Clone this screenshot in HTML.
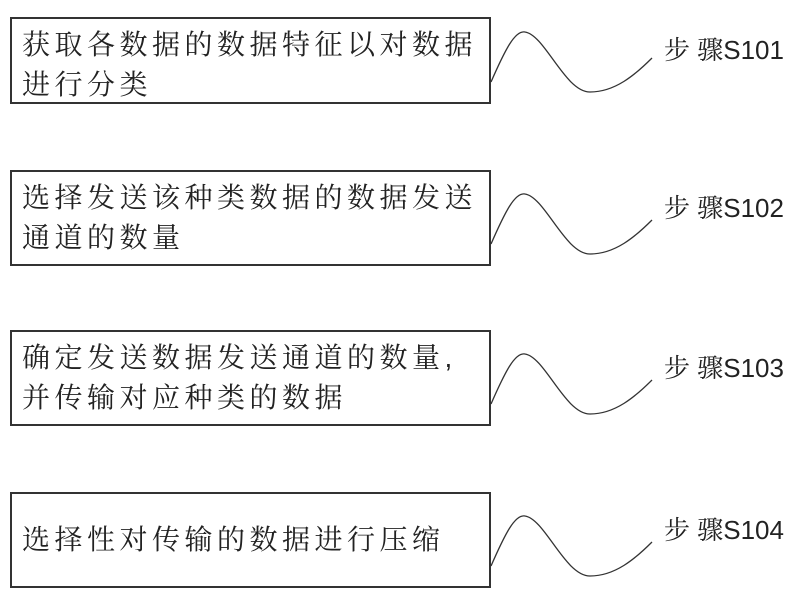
<!DOCTYPE html>
<html><head><meta charset="utf-8"><style>
body{margin:0;background:#fff;width:795px;height:595px;overflow:hidden;position:relative;font-family:"Liberation Sans","Noto Serif CJK SC","Noto Sans CJK SC",serif;}
.b{position:absolute;left:10px;width:481px;border:2px solid #333;box-sizing:border-box;}
.t{position:absolute;left:22px;font-size:28px;color:#222;letter-spacing:4.5px;line-height:40px;white-space:nowrap;}
.l{position:absolute;left:664px;font-size:26px;color:#222;white-space:nowrap;}
</style></head><body>
<div class="b" style="top:17px;height:87px"></div>
<div class="t" style="top:25px">获取各数据的数据特征以对数据<br>进行分类</div>
<div class="l" style="top:30px">步 骤S101</div>
<div class="b" style="top:170px;height:96px"></div>
<div class="t" style="top:178px">选择发送该种类数据的数据发送<br>通道的数量</div>
<div class="l" style="top:188px">步 骤S102</div>
<div class="b" style="top:330px;height:96px"></div>
<div class="t" style="top:338px">确定发送数据发送通道的数量,<br>并传输对应种类的数据</div>
<div class="l" style="top:348px">步 骤S103</div>
<div class="b" style="top:492px;height:96px"></div>
<div class="t" style="top:520px">选择性对传输的数据进行压缩</div>
<div class="l" style="top:510px">步 骤S104</div>
<svg width="795" height="595" style="position:absolute;left:0;top:0">
<g fill="none" stroke="#333" stroke-width="1.3">
<path d="M491 82 C505 50,515 30,525 32 C545 35,565 92,590 92 C615 92,635 75,652 58"/>
<path d="M491 244 C505 212,515 192,525 194 C545 197,565 254,590 254 C615 254,635 237,652 220"/>
<path d="M491 404 C505 372,515 352,525 354 C545 357,565 414,590 414 C615 414,635 397,652 380"/>
<path d="M491 566 C505 534,515 514,525 516 C545 519,565 576,590 576 C615 576,635 559,652 542"/>
</g></svg>
</body></html>
